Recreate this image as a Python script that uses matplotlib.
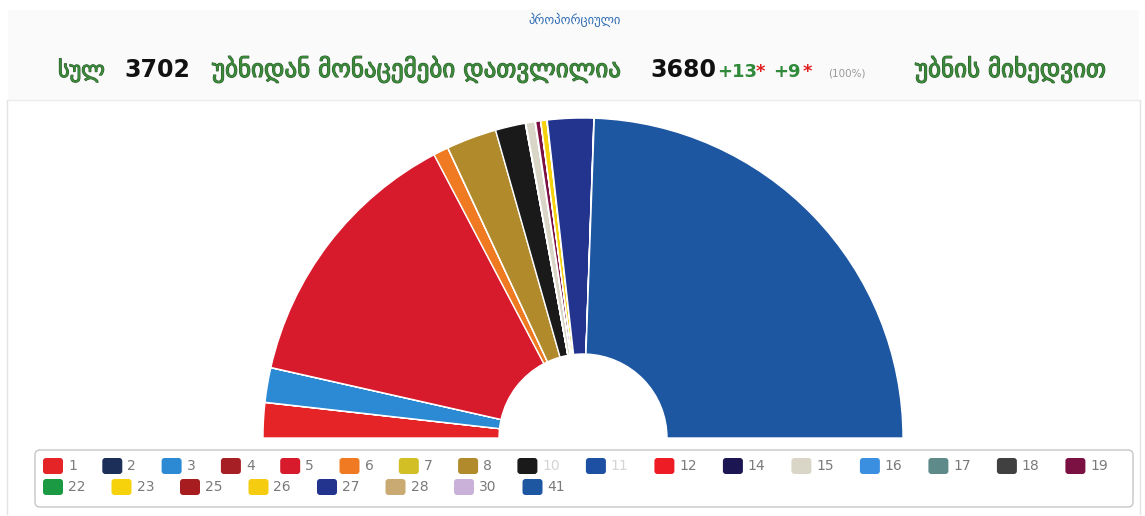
import matplotlib.pyplot as plt
from matplotlib.patches import FancyBboxPatch, Rectangle
import matplotlib.patheffects as pe

W, H = 1145, 516

# party numbers, vote share (%) and party colours
parties = ["1", "2", "3", "4", "5", "6", "7", "8", "10", "11", "12", "14", "15", "16", "17", "18", "19",
           "22", "23", "25", "26", "27", "28", "30", "41"]
shares = [3.5, 0.02, 3.45, 0.02, 27.2, 1.5, 0.02, 5.0, 3.0, 0.02, 0.02, 0.02, 0.9, 0.02, 0.02, 0.02, 0.5,
          0.02, 0.6, 0.02, 0.02, 4.6, 0.02, 0.02, 48.3]
colors = ["#e52427", "#1b2f58", "#2b8ad3", "#a61f24", "#d81b2c", "#f07a22", "#d2bf26", "#b18a2c",
          "#1a1a1a", "#1d4fa3", "#ee1d25", "#1c1752", "#d9d6c8", "#3b8fe0", "#5f8a8a", "#404040",
          "#7b1142", "#1b9a43", "#f5d20c", "#a71d1f", "#f5cc10", "#22348e", "#c9aa72", "#c9b1d9", "#1d56a1"]
faded = ["10", "11"]

subtitle = "პროპორციული"
total_precincts = "3702"
counted = "3680"
extra_a = "+13"
extra_b = "+9"
pct = "(100%)"

fig = plt.figure(figsize=(W / 100, H / 100), dpi=100)
ax = fig.add_axes([0, 0, 1, 1])

# half donut: an invisible slice equal to the total fills the lower half
vals = shares + [sum(shares)]
cols = colors + ["none"]
wedges, _ = ax.pie(vals, colors=cols, startangle=180, counterclock=False,
                   radius=320, center=(583, H - 438),
                   wedgeprops=dict(width=236, edgecolor="white", linewidth=1.0))
wedges[-1].set_linewidth(0)

ax.set_xlim(0, W)
ax.set_ylim(0, H)
ax.set_aspect("equal")
ax.axis("off")

# page frame and header band
ax.add_patch(Rectangle((8, H - 100), W - 14, 90, facecolor="#fafafa", edgecolor="none", zorder=0))
ax.plot([8, W - 6], [H - 100, H - 100], color="#ececec", lw=1.0, zorder=0)
ax.plot([7, 7], [2, H - 100], color="#e4e4e4", lw=1.0, zorder=0)
ax.plot([W - 5, W - 5], [2, H - 100], color="#e4e4e4", lw=1.0, zorder=0)

# header texts
ax.text(575, H - 20, subtitle, color="#2f6cb4", fontsize=9, ha="center", va="center",
        fontfamily="DejaVu Sans")
green = "#3b8b3b"
geo_fx = [pe.withStroke(linewidth=0.8, foreground="#2a5a2a")]
base = H - 77
ax.text(58, base, "სულ", color=green, fontsize=16, ha="left", va="baseline", path_effects=geo_fx)
ax.text(124, base, total_precincts, color="#111111", fontsize=17, fontweight="bold", ha="left", va="baseline")
ax.text(212, base, "უბნიდან მონაცემები დათვლილია", color=green, fontsize=18, ha="left", va="baseline",
        path_effects=geo_fx)
ax.text(650, base, counted, color="#111111", fontsize=17, fontweight="bold", ha="left", va="baseline")
ax.text(717, base, extra_a, color="#2f8a3a", fontsize=13, fontweight="bold", ha="left", va="baseline")
ax.text(756, base, "*", color="#e02020", fontsize=13, fontweight="bold", ha="left", va="baseline")
ax.text(773, base, extra_b, color="#2f8a3a", fontsize=13, fontweight="bold", ha="left", va="baseline")
ax.text(803, base, "*", color="#e02020", fontsize=13, fontweight="bold", ha="left", va="baseline")
ax.text(828, base, pct, color="#999999", fontsize=7.5, ha="left", va="baseline")
ax.text(915, base, "უბნის მიხედვით", color=green, fontsize=18, ha="left", va="baseline",
        path_effects=geo_fx)

# legend box
ax.add_patch(FancyBboxPatch((35, H - 507), 1098, 57, boxstyle="round,pad=0,rounding_size=5",
                            facecolor="white", edgecolor="#c6c6c6", lw=1.0, zorder=2))

row_break = parties.index("19") + 1
for i, (name, col) in enumerate(zip(parties, colors)):
    row = 0 if i < row_break else 1
    if i == 0 or i == row_break:
        x = 43
    y = H - (466 if row == 0 else 487)
    ax.add_patch(FancyBboxPatch((x, y - 8), 20, 16, boxstyle="round,pad=0,rounding_size=3",
                                facecolor=col, edgecolor="none", zorder=3))
    ax.text(x + 25, y, name, color="#d4d4d4" if name in faded else "#7a7a7a",
            fontsize=10, ha="left", va="center", zorder=3)
    x += 59.3 if len(name) == 1 else 68.5

fig.savefig("out.png", dpi=100, facecolor="white")
